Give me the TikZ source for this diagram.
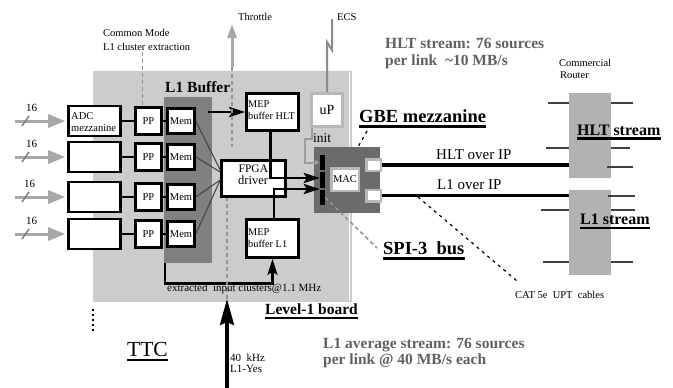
\documentclass[tikz,border=0pt]{standalone}
\usepackage{fontspec}
\setmainfont{Liberation Serif}
\usetikzlibrary{arrows.meta,calc}
\definecolor{boardc}{gray}{0.80}
\definecolor{bufc}{gray}{0.50}
\definecolor{gbec}{gray}{0.42}
\definecolor{routc}{gray}{0.70}
\definecolor{garrc}{gray}{0.66}
\definecolor{gtextc}{gray}{0.38}
\definecolor{stubc}{gray}{0.25}
\definecolor{frmc}{gray}{0.72}
\definecolor{dashc}{gray}{0.58}
\definecolor{ecsc}{gray}{0.55}
\begin{document}
\begin{tikzpicture}[x=1pt,y=-1pt,
  fs/.style={font=\fontsize{#1}{#1}\selectfont},
  fsb/.style={font=\fontsize{#1}{#1}\selectfont\bfseries},
  txt/.style={inner sep=0pt, anchor=base west},
  blk/.style={draw=black, line width=2.6pt, fill=white, inner sep=0pt},
  frm/.style={draw=frmc, line width=2.6pt, fill=white, inner sep=0pt},
  wire/.style={line width=2.8pt, black},
  barrow/.style={line width=2.8pt, black, -{Stealth[length=16pt,width=10pt,inset=3pt]}},
  garrow/.style={line width=3pt, garrc, -{Triangle[length=17pt,width=13pt]}},
  thinl/.style={line width=1pt, black!75},
  gdash/.style={line width=1.6pt, dashc, dash pattern=on 4pt off 3pt},
  kdash/.style={line width=1.2pt, black, dash pattern=on 3pt off 4pt},
  stubl/.style={line width=2.8pt, stubc},
  uline/.style={line width=2.4pt, black},
]
\useasboundingbox (0,0) rectangle (673,388);
\fill[white] (0,0) rectangle (673,388);
% board and L1 buffer area
\fill[boardc] (93,71) rectangle (352,302);
\draw[white, line width=1pt] (349.5,72) -- (349.5,301);
\fill[bufc] (164,97) rectangle (212,263);
\draw[line width=1.2pt, black, dash pattern=on 2pt off 3pt] (93,309) -- (93,332);

% input rows
\foreach \n/\y/\lx in {1/121/26,2/157/26,3/197/24,4/234/26}{
  \node[blk, minimum width=52, minimum height=30] (adc\n) at (94.5,\y) {};
  \node[blk, minimum width=26, minimum height=27, fs=10.5] (pp\n) at (148.5,\y) {PP};
  \node[blk, minimum width=27, minimum height=25, fs=10.5] (mem\n) at (181,\y) {Mem};
  \coordinate (in\n) at (15,\y);
  \draw[garrow] (in\n) -- ($(adc\n.west)+(-2,0)$);
  \draw[garrc!75!black, line width=1.5pt] (22,\y+5) -- (29,\y-5);
  \node[txt, fs=11] (n16\n) at (\lx,\y-10) {16};
  \draw[wire] (adc\n.east) -- (pp\n.west);
  \draw[wire] (pp\n.east) -- (mem\n.west);
}
\node[txt, fs=10.5] (adct) at (71,119) {ADC};
\node[txt, fs=10.5] (adcm) at (71,131.5) {mezzanine};

% FPGA and MEP buffers
\node[blk, minimum width=64, minimum height=36] (fpga) at (253.5,178.5) {};
\node[txt, fs=11.5] (fpgat) at (238.5,172) {FPGA};
\node[txt, fs=12.5] (drvt) at (238,184) {driver};
\node[blk, minimum width=52, minimum height=37] (mephlt) at (272.5,112) {};
\node[txt, fs=10.3] (mht1) at (248,107) {MEP};
\node[txt, fs=10.3] (mht2) at (248,119) {buffer HLT};
\node[blk, minimum width=52, minimum height=38] (mepl1) at (272.5,238.5) {};
\node[txt, fs=10.3] (ml11) at (248,235) {MEP};
\node[txt, fs=10.3] (ml12) at (248,247.5) {buffer L1};

\foreach \n/\dy in {1/-8.5,2/-6.5,3/1.5,4/1.5}{
  \draw[thinl] (mem\n.east) -- ($(fpga.west)+(0,\dy)$);
}

% uP and GBE mezzanine
\node[frm, minimum width=31, minimum height=33, fs=14] (up) at (327,110) {uP};
\node[fill=gbec, minimum width=66, minimum height=66, inner sep=0pt] (gbe) at (347,180) {};
\node[fill=black, minimum width=5, minimum height=15, inner sep=0pt] (spi1) at (322.5,162.5) {};
\node[fill=black, minimum width=5, minimum height=16, inner sep=0pt] (spi2) at (322.5,180) {};
\node[fill=black, minimum width=5, minimum height=15, inner sep=0pt] (spi3) at (322.5,197.5) {};
\node[draw=frmc, line width=2.5pt, fill=white, minimum width=27.5, minimum height=22.5, inner sep=0pt, fs=10.5] (mac) at (345,179.5) {MAC};
\node[draw=frmc, line width=2.5pt, fill=white, minimum width=14.5, minimum height=11.5, inner sep=0pt] (port1) at (373.5,165) {};
\node[draw=frmc, line width=2.5pt, fill=white, minimum width=14.5, minimum height=11.5, inner sep=0pt] (port2) at (373.5,195.5) {};
\node[txt, fs=13.5] (initt) at (313,142) {init};

% routers
\node[fill=routc, minimum width=42, minimum height=85, inner sep=0pt] (rt1) at (590,135.5) {};
\node[fill=routc, minimum width=42, minimum height=85, inner sep=0pt] (rt2) at (590,232.5) {};
\draw[stubl] (548,103) -- (rt1.west |- 0,103);
\draw[stubl] (rt1.east |- 0,103) -- (633,103);
\draw[stubl] (546,148) -- (rt1.west |- 0,148);
\draw[stubl] (rt1.east |- 0,148) -- (630,148);
\draw[stubl] (607,167) -- (633,167);
\draw[stubl] (608,196) -- (635,196);
\draw[stubl] (541,210) -- (rt2.west |- 0,210);
\draw[stubl] (rt2.east |- 0,210) -- (635,210);
\draw[stubl] (543,262) -- (rt2.west |- 0,262);
\draw[stubl] (rt2.east |- 0,262) -- (633,262);

% IP links
\draw[line width=3.2pt] (port1.east) -- (port1.east -| rt1.west);
\draw[line width=3.2pt] (port2.east) -- (port2.east -| rt2.west);
\node[txt, fs=15] (hltip) at (436,159.5) {HLT over IP};
\node[txt, fs=15] (l1ip) at (437,189.5) {L1 over IP};

% connectors
\coordinate (bufout) at (208,112);
\draw[barrow] (bufout) -- (mephlt.west);
\draw[barrow] ($(mephlt.south)+(-2,0)$) |- ($(spi2.west)+(0,-2)$);
\draw[barrow] ($(mepl1.north)+(1.5,0)$) |- ($(spi2.west)+(0,9)$);
\coordinate (bufbot) at (165,263);
\draw[barrow] (bufbot) |- ($(mepl1.south)+(0,25)$) -- (mepl1.south);

% throttle
\coordinate (thrtop) at (232,24);
\coordinate (thrmid) at (232,67);
\coordinate (thrbot) at (232,147);
\draw[line width=3pt, garrc, -{Triangle[length=14pt,width=9pt]}] (thrmid) -- (thrtop);
\draw[gdash] (thrmid) -- (thrbot);
\node[txt, fs=10.5] (thrt) at (238,20) {Throttle};

% TTC
\coordinate (ttcin) at (227,388);
\coordinate (ttctip) at (227,299);
\draw[line width=3.5pt, black, -{Stealth[length=26pt,width=14pt,inset=3pt]}] (ttcin) -- (ttctip);
\draw[gdash] (ttctip) -- (ttctip |- fpga.south);
\node[txt, fs=11] (khz) at (230,361.5) {40~~kHz};
\node[txt, fs=11] (l1yes) at (230,372.5) {L1-Yes};

% common mode
\coordinate (cm) at (142.5,52);
\draw[gdash] (cm) -- (cm |- pp1.north);
\node[txt, fs=10.5] (cmt1) at (103,37) {Common Mode};
\node[txt, fs=10.5] (cmt2) at (103,50) {L1 cluster extraction};

% ECS
\coordinate (ecs) at (332,19);
\draw[line width=2pt, ecsc] (ecs) -- (332,50) -- (327,42) -- (up.north);
\node[txt, fs=10.5] (ecst) at (337,20) {ECS};

% init
\draw[line width=2pt, frmc!85!black, -{Triangle[length=5pt,width=5pt]}] ($(up.south west)+(2,0)$) -- ++(0,11) -- ++(-7,0) |- (spi1.west);

% labels
\node[txt, fsb=15.5] (l1buf) at (165,92) {L1 Buffer};
\node[txt, fsb=18.5] (gbel) at (359,122) {GBE mezzanine};
\draw[uline] ($(gbel.base west)+(0,4.5)$) -- ($(gbel.base east)+(0,4.5)$);
\draw[kdash] ($(gbel.base west)+(8,9)$) -- ($(gbe.north)+(10,2)$);
\node[txt, fsb=18.5] (spil) at (383,254) {SPI-3~~bus};
\draw[uline] ($(spil.base west)+(0,4.5)$) -- ($(spil.base east)+(0,4.5)$);
\draw[gdash] (spi3.east) -- ($(spil.base west)+(-6,-6)$);
\node[txt, fsb=16] (hlts) at (577,135) {HLT stream};
\draw[uline] ($(hlts.base west)+(0,3.5)$) -- ($(hlts.base east)+(0,3.5)$);
\node[txt, fsb=16] (l1s) at (580,224) {L1 stream};
\draw[uline] ($(l1s.base west)+(0,4)$) -- ($(l1s.base east)+(0,4)$);
\node[txt, fsb=15.5] (lvl) at (265,314) {Level-1 board};
\draw[uline] ($(lvl.base west)+(0,4)$) -- ($(lvl.base east)+(0,4)$);
\node[txt, fs=21.5] (ttc) at (127,356) {TTC};
\draw[line width=2pt] ($(ttc.base west)+(0,3.5)$) -- ($(ttc.base east)+(0,3.5)$);
\node[txt, fs=11] (extr) at (167,291) {extracted~~input clusters@1.1 MHz};
\node[txt, fs=10.5] (comm1) at (559,66.5) {Commercial};
\node[txt, fs=10.5] (comm2) at (560,78) {Router};
\node[txt, fs=10.5] (catl) at (515,298) {CAT 5e~~UPT~~cables};
\coordinate (catA) at (418,197);
\draw[kdash] (catA) -- ($(catl.base west)+(2,-17)$);
\node[txt, fsb=15.5, text=gtextc] (hlt1) at (385,48) {HLT stream: 76 sources};
\node[txt, fsb=15.5, text=gtextc] (hlt2) at (385,65) {per link~~{\char126}10 MB/s};
\node[txt, fsb=15.5, text=gtextc] (l1a1) at (323,348) {L1 average stream: 76 sources};
\node[txt, fsb=15.5, text=gtextc] (l1a2) at (323,364) {per link @ 40 MB/s each};
\end{tikzpicture}
\end{document}
